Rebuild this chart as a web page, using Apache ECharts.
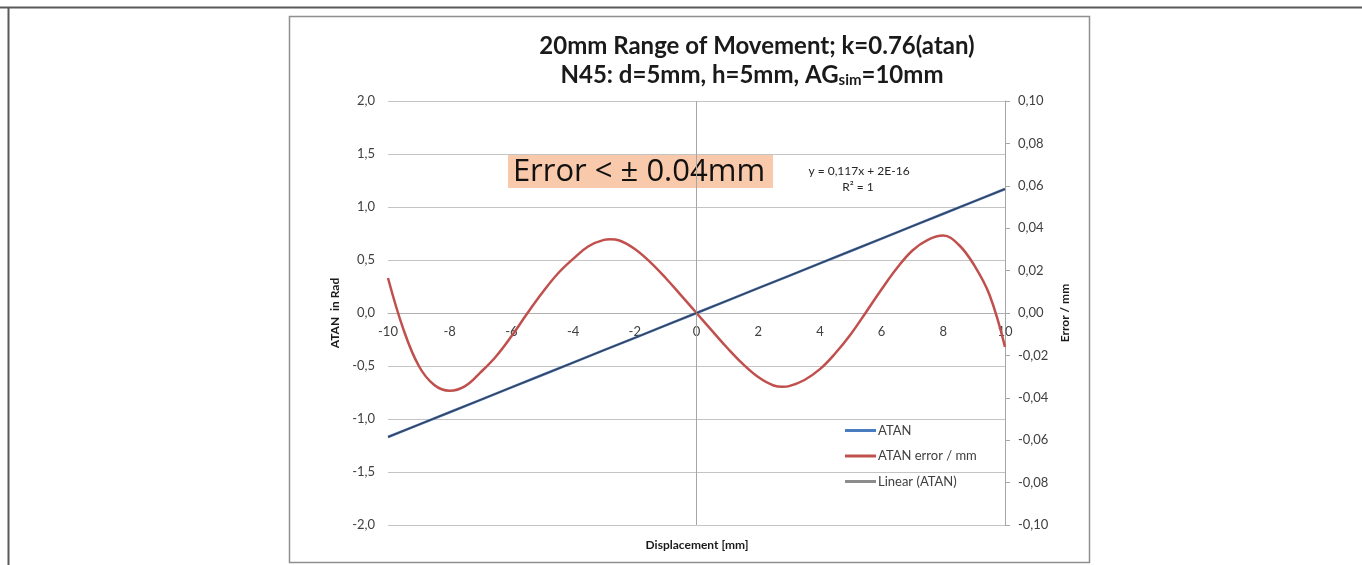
<!DOCTYPE html>
<html>
<head>
<meta charset="utf-8">
<script src="https://cdn.jsdelivr.net/npm/echarts@6/dist/echarts.min.js"></script>
<style>
  html, body { margin: 0; padding: 0; background: #ffffff; }
  #chart { width: 1362px; height: 565px; }
</style>
</head>
<body>
<div id="chart"></div>
<script>
// Displacement (mm) and arctangent output (rad)
const atanX = [-10, -9, -8, -7, -6, -5, -4, -3, -2, -1, 0, 1, 2, 3, 4, 5, 6, 7, 8, 9, 10];
const atanRad = [-1.170, -1.053, -0.936, -0.819, -0.702, -0.585, -0.468, -0.351, -0.234, -0.117, 0.000,
                 0.117, 0.234, 0.351, 0.468, 0.585, 0.702, 0.819, 0.936, 1.053, 1.170];

// Linearisation error (mm) over the displacement range
const errX = [-10, -9.5, -9, -8.5, -8, -7.5, -7, -6.5, -6, -5.5, -5, -4.5, -4, -3.5, -3, -2.8, -2.5, -2, -1.5, -1, -0.5,
              0, 0.5, 1, 1.5, 2, 2.5, 2.8, 3, 3.5, 4, 4.5, 5, 5.5, 6, 6.5, 7, 7.5, 8, 8.5, 9, 9.5, 10];
const errMm = [0.0165, -0.0077, -0.0250, -0.0340, -0.0367, -0.0345, -0.0280, -0.0205, -0.0110, -0.0005,
               0.0095, 0.0185, 0.0255, 0.0315, 0.0345, 0.0348, 0.0342, 0.0302, 0.0240, 0.0165, 0.0083,
               0.0000, -0.0083, -0.0165, -0.0240, -0.0302, -0.0342, -0.0348, -0.0345, -0.0316, -0.0265, -0.0190,
               -0.0100, 0.0005, 0.0112, 0.0212, 0.0295, 0.0345, 0.0365, 0.0322, 0.0226, 0.0085, -0.0160];

// Linear trend of the ATAN series (y = 0,117x)
const trendX = [-10, 10];
const trendY = [-1.170, 1.170];

// Axis ranges and steps
const leftAxis = { min: -2, max: 2, step: 0.5 };
const rightAxis = { min: -0.1, max: 0.1, step: 0.02 };
const xRange = { min: -10, max: 10, step: 2 };

const pairs = (xs, ys) => xs.map((x, i) => [x, ys[i]]);
const comma = (v, d) => v.toFixed(d).replace('.', ',');

const FONT = 'Lato, "Open Sans", sans-serif';
const labelColor = '#404040';

const GRID = { left: 388, right: 357, top: 101, bottom: 40 };
const plotH = 565 - GRID.top - GRID.bottom;
// the displacement axis sits on the zero line of the left value axis
const zeroOffset = -plotH * (0 - leftAxis.min) / (leftAxis.max - leftAxis.min);

const chart = echarts.init(document.getElementById('chart'), null, { renderer: 'canvas' });

chart.setOption({
  animation: false,
  backgroundColor: '#ffffff',
  textStyle: { fontFamily: FONT },
  grid: Object.assign({ containLabel: false }, GRID),
  legend: {
    orient: 'vertical',
    left: 840,
    top: 419,
    itemWidth: 31,
    itemHeight: 3,
    itemGap: 12.5,
    textStyle: { fontFamily: FONT, fontSize: 13, color: labelColor, padding: [0, 0, 0, -3] },
    data: [
      { name: 'ATAN', icon: 'rect', itemStyle: { color: '#4a7cc0' } },
      { name: 'ATAN error / mm', icon: 'rect', itemStyle: { color: '#c0504d' } },
      { name: 'Linear (ATAN)', icon: 'rect', itemStyle: { color: '#8c8c8c' } }
    ]
  },
  xAxis: {
    type: 'value',
    min: xRange.min,
    max: xRange.max,
    interval: xRange.step,
    offset: zeroOffset,
    axisLine: { show: true, onZero: false, lineStyle: { color: '#b0b0b0', width: 1 } },
    axisTick: { show: false },
    splitLine: { show: false },
    axisLabel: { color: labelColor, fontSize: 13, fontFamily: FONT, margin: 12 }
  },
  yAxis: [
    {
      type: 'value',
      position: 'left',
      min: leftAxis.min,
      max: leftAxis.max,
      interval: leftAxis.step,
      name: 'ATAN  in Rad',
      nameLocation: 'middle',
      nameRotate: 90,
      nameGap: 47,
      nameTextStyle: { fontFamily: FONT, fontWeight: 'bold', fontSize: 12, color: '#1a1a1a' },
      axisLine: { show: false, onZero: false },
      axisTick: { show: false },
      splitLine: { show: true, lineStyle: { color: '#c4c4c4', width: 1 } },
      axisLabel: { color: labelColor, fontSize: 13, fontFamily: FONT, margin: 13,
                   formatter: v => comma(v, 1) }
    },
    {
      type: 'value',
      position: 'right',
      min: rightAxis.min,
      max: rightAxis.max,
      interval: rightAxis.step,
      name: 'Error / mm',
      nameLocation: 'middle',
      nameRotate: 90,
      nameGap: 54,
      nameTextStyle: { fontFamily: FONT, fontWeight: 'bold', fontSize: 12, color: '#1a1a1a' },
      axisLine: { show: true, onZero: false, lineStyle: { color: '#a6a6a6', width: 1 } },
      axisTick: { show: true, inside: false, length: 5, lineStyle: { color: '#a6a6a6' } },
      splitLine: { show: false },
      axisLabel: { color: labelColor, fontSize: 13, fontFamily: FONT, margin: 13,
                   formatter: v => comma(v, 2) }
    }
  ],
  series: [
    {
      name: 'ATAN',
      type: 'line',
      yAxisIndex: 0,
      data: pairs(atanX, atanRad),
      symbol: 'none',
      color: '#3b69b0',
      lineStyle: { width: 2.5, color: '#3b69b0' },
      z: 3,
      markLine: {
        silent: true,
        symbol: 'none',
        label: { show: false },
        lineStyle: { color: '#a6a6a6', width: 1, type: 'solid' },
        data: [{ xAxis: 0 }]
      }
    },
    {
      name: 'ATAN error / mm',
      type: 'line',
      yAxisIndex: 1,
      data: pairs(errX, errMm),
      smooth: 0.4,
      symbol: 'none',
      color: '#c0504d',
      lineStyle: { width: 2.5, color: '#c0504d' },
      z: 4
    },
    {
      name: 'Linear (ATAN)',
      type: 'line',
      yAxisIndex: 0,
      data: pairs(trendX, trendY),
      symbol: 'none',
      color: '#7a7a7a',
      lineStyle: { width: 1, color: '#3a3a3a' },
      z: 5
    }
  ],
  graphic: [
    { type: 'line', silent: true, shape: { x1: 0, y1: 7.5, x2: 1362, y2: 7.5 },
      style: { stroke: '#5a5a5a', lineWidth: 2 } },
    { type: 'line', silent: true, shape: { x1: 8.5, y1: 7, x2: 8.5, y2: 565 },
      style: { stroke: '#5a5a5a', lineWidth: 2 } },
    { type: 'rect', silent: true, z: -10, shape: { x: 289.5, y: 16.5, width: 800, height: 546 },
      style: { fill: 'none', stroke: '#8f8f8f', lineWidth: 1.5 } },
    { type: 'text', silent: true, x: 757, y: 46,
      style: { text: '20mm Range of Movement; k=0.76(atan)', font: 'bold 24px ' + FONT,
               fill: '#1a1a1a', align: 'center', verticalAlign: 'middle' } },
    { type: 'text', silent: true, x: 752, y: 75,
      style: { text: '{a|N45: d=5mm, h=5mm, AG}{s|sim}{a|=10mm}',
               align: 'center', verticalAlign: 'middle',
               rich: {
                 a: { fontFamily: FONT, fontWeight: 'bold', fontSize: 24, fill: '#1a1a1a', lineHeight: 28 },
                 s: { fontFamily: FONT, fontWeight: 'bold', fontSize: 15, fill: '#1a1a1a', padding: [10, 0, 0, 0] }
               } } },
    { type: 'rect', silent: true, shape: { x: 508, y: 155, width: 265, height: 33 },
      style: { fill: '#f8c9aa' } },
    { type: 'text', silent: true, x: 639, y: 172,
      style: { text: 'Error < ± 0.04mm', font: '31px "Open Sans", sans-serif', fill: '#111111',
               align: 'center', verticalAlign: 'middle' } },
    { type: 'text', silent: true, x: 859, y: 171,
      style: { text: 'y = 0,117x + 2E-16', font: '12px ' + FONT, fill: '#262626',
               align: 'center', verticalAlign: 'middle' } },
    { type: 'text', silent: true, x: 858, y: 187,
      style: { text: 'R² = 1', font: '12px ' + FONT, fill: '#262626',
               align: 'center', verticalAlign: 'middle' } },
    { type: 'text', silent: true, x: 697, y: 545,
      style: { text: 'Displacement [mm]', font: 'bold 12px ' + FONT, fill: '#1a1a1a',
               align: 'center', verticalAlign: 'middle' } }
  ]
});
</script>
</body>
</html>
